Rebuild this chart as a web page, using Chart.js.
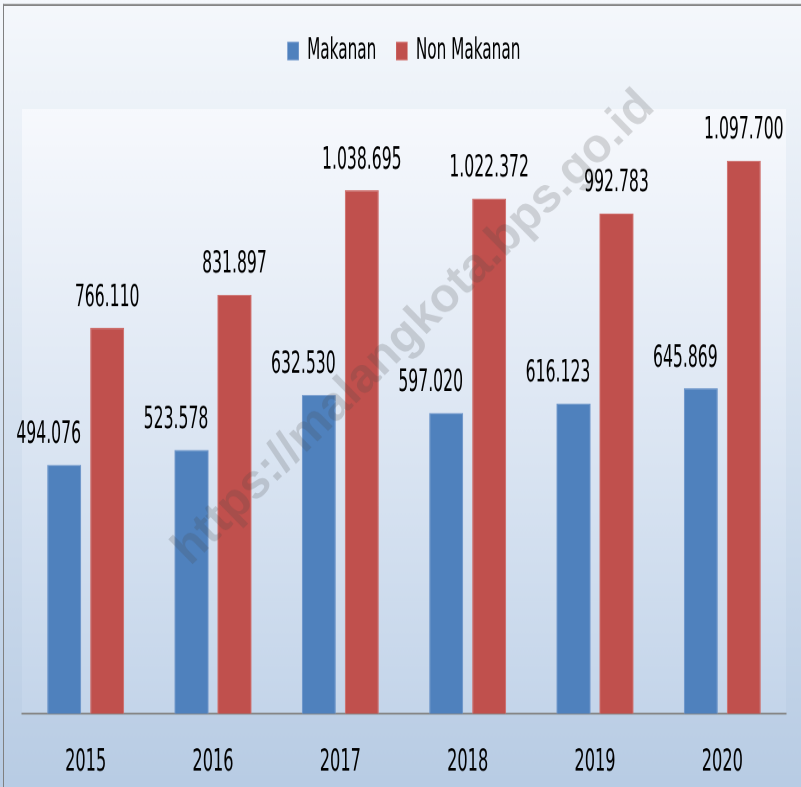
<!DOCTYPE html>
<html>
<head>
<meta charset="utf-8">
<script src="https://cdn.jsdelivr.net/npm/chart.js@4/dist/chart.umd.min.js"></script>
<style>
  html, body { margin: 0; padding: 0; background: #ffffff; overflow: hidden; }
  #wrap { position: absolute; left: 0; top: 0; width: 801px; height: 455px; transform: scaleY(1.7296703); transform-origin: 0 0; }
</style>
</head>
<body>
<div id="wrap"><canvas id="c"></canvas></div>
<script>
// ---- data ----
const categories = ['2015', '2016', '2017', '2018', '2019', '2020'];
const seriesNames = ['Makanan', 'Non Makanan'];
const makanan = [494076, 523578, 632530, 597020, 616123, 645869];
const nonMakanan = [766110, 831897, 1038695, 1022372, 992783, 1097700];
const yTickMin = 0;
const yTickMax = 1200000;
const watermarkText = 'https://malangkota.bps.go.id';

// ---- styling / layout ----
const H0 = 455;
const K = 787 / H0;             // vertical stretch of the whole drawing (tall, narrow text)
const NARROW = "'DejaVu Sans Condensed', 'Liberation Sans Narrow', sans-serif";
const CHART_TOP = 109 / K;
const CHART_BOTTOM = 714 / K;
const PAD_TOP = 1;
const LEGEND_H = CHART_TOP - PAD_TOP;
const XAXIS_H = H0 - CHART_BOTTOM;

function fmt(v) {
  return String(v).replace(/\B(?=(\d{3})+(?!\d))/g, '.');
}

const bgPlugin = {
  id: 'bg',
  beforeDraw(chart) {
    const ctx = chart.ctx, W = chart.width, H = chart.height, a = chart.chartArea;
    ctx.save();
    let g = ctx.createLinearGradient(0, 0, 0, H);
    g.addColorStop(0, '#f5f8fc');
    g.addColorStop(1, '#b8cce4');
    ctx.fillStyle = g;
    ctx.fillRect(0, 0, W, H);
    g = ctx.createLinearGradient(0, a.top, 0, a.bottom);
    g.addColorStop(0, '#f7f9fd');
    g.addColorStop(1, '#c4d5ea');
    ctx.fillStyle = g;
    ctx.fillRect(a.left, a.top, a.right - a.left, a.bottom - a.top);
    // outer frame (top + left)
    ctx.fillStyle = '#808080';
    ctx.fillRect(3, 4 / K, W - 3, 2 / K);
    ctx.fillRect(3, 4 / K, 1, H);
    ctx.restore();
  }
};

const legendHeightPlugin = {
  id: 'legendHeight',
  afterInit(chart) {
    const lg = chart.legend;
    if (lg && !lg._patched) {
      const orig = lg.fit;
      lg.fit = function () { orig.call(this); this.height = LEGEND_H; };
      lg._patched = true;
    }
  }
};

const labelPlugin = {
  id: 'valueLabels',
  afterDatasetsDraw(chart) {
    const ctx = chart.ctx;
    // watermark (drawn undistorted: counter the vertical stretch)
    ctx.save();
    ctx.translate(414, 328 / K);
    ctx.scale(1, 1 / K);
    ctx.rotate(-44.5 * Math.PI / 180);
    ctx.font = "bold 48px 'Liberation Sans', Arial, sans-serif";
    ctx.fillStyle = 'rgba(70,70,70,0.2)';
    ctx.textAlign = 'center';
    ctx.textBaseline = 'middle';
    ctx.fillText(watermarkText, 0, 0);
    ctx.restore();

    ctx.save();
    ctx.font = '17.4px ' + NARROW;
    ctx.fillStyle = '#000000';
    ctx.textAlign = 'center';
    ctx.textBaseline = 'alphabetic';
    chart.data.datasets.forEach((ds, di) => {
      const meta = chart.getDatasetMeta(di);
      meta.data.forEach((el, i) => {
        const dx = di === 0 ? -15.5 : 0;
        ctx.fillText(fmt(ds.data[i]), el.x + dx, el.y - 22 / K);
      });
    });
    ctx.restore();
  }
};

new Chart(document.getElementById('c'), {
  type: 'bar',
  data: {
    labels: categories,
    datasets: [
      { label: seriesNames[0], data: makanan, backgroundColor: '#4f81bd', borderColor: '#6a93c9',
        borderWidth: { left: 1, right: 1, top: 0.6, bottom: 0 },
        categoryPercentage: 0.675, barPercentage: 0.79 },
      { label: seriesNames[1], data: nonMakanan, backgroundColor: '#c0504d', borderColor: '#cf6b68',
        borderWidth: { left: 1, right: 1, top: 0.6, bottom: 0 },
        categoryPercentage: 0.675, barPercentage: 0.79 }
    ]
  },
  options: {
    responsive: true,
    maintainAspectRatio: false,
    devicePixelRatio: 2,
    animation: false,
    events: [],
    layout: { padding: { top: PAD_TOP, left: 22, right: 15, bottom: 0 } },
    plugins: {
      legend: {
        display: true,
        position: 'top',
        labels: {
          boxWidth: 11, boxHeight: 10, padding: 20,
          color: '#000000',
          font: { family: NARROW, size: 17 }
        }
      },
      tooltip: { enabled: false },
      title: { display: false }
    },
    scales: {
      x: {
        grid: { display: false, drawTicks: false },
        border: { display: true, color: '#868686', width: 2 / K },
        ticks: { color: '#000000', padding: 17, font: { family: NARROW, size: 18 } },
        afterFit(s) { s.height = XAXIS_H; }
      },
      y: {
        display: false,
        min: yTickMin,
        max: yTickMax
      }
    }
  },
  plugins: [bgPlugin, legendHeightPlugin, labelPlugin]
});
</script>
</body>
</html>
